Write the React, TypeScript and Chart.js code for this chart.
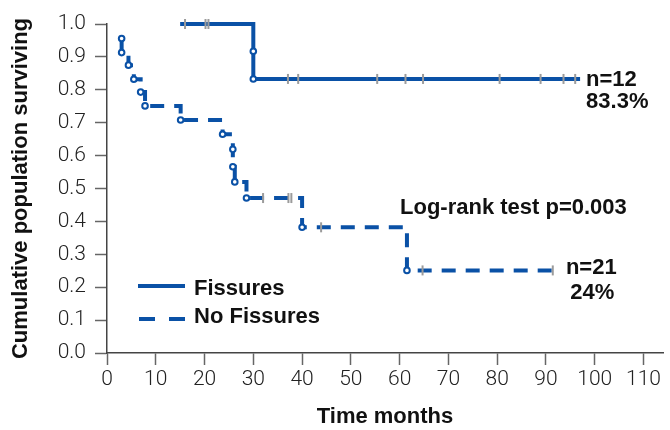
import React, { useEffect, useRef } from "react";
import { Chart, registerables } from "chart.js";

Chart.register(...registerables);

// ---- Data ----
// Fissures group (n=12)
const fissTimes = [15, 30, 30, 97];
const fissSurv = [1.0, 0.917, 0.833, 0.833];
const fissEventTimes = [30, 30];
const fissEventSurv = [0.917, 0.833];
const fissCensorTimes = [16, 20.2, 20.8, 37.1, 39.2, 55.4, 61.2, 64.8, 80.5, 88.9, 93.6, 96.0];
const fissCensorSurv = [1.0, 1.0, 1.0, 0.833, 0.833, 0.833, 0.833, 0.833, 0.833, 0.833, 0.833, 0.833];

// No Fissures group (n=21)
const noTimes = [3.0, 3.0, 4.4, 5.5, 6.9, 7.8, 15.1, 23.7, 25.8, 25.8, 26.2, 28.6, 40.0, 61.5, 91.5];
const noSurv = [0.956, 0.913, 0.875, 0.832, 0.793, 0.751, 0.708, 0.665, 0.619, 0.566, 0.52, 0.471, 0.382, 0.251, 0.251];
const noEventTimes = [3.0, 3.0, 4.4, 5.5, 6.9, 7.8, 15.1, 23.7, 25.8, 25.8, 26.2, 28.6, 40.0, 61.5];
const noEventSurv = [0.956, 0.913, 0.875, 0.832, 0.793, 0.751, 0.708, 0.665, 0.619, 0.566, 0.52, 0.471, 0.382, 0.251];
const noCensorTimes = [32.0, 37.2, 37.8, 43.9, 64.7, 91.4];
const noCensorSurv = [0.471, 0.471, 0.471, 0.382, 0.251, 0.251];

// Axis ticks
const xTickStep = 10;
const xMin = 0;
const xMax = 114;
const yTickStep = 0.1;

// Labels / annotations
const seriesNames = ["Fissures", "No Fissures"];
const logRankText = "Log-rank test p=0.003";
const fissNote = ["n=12", "83.3%"];
const noNote = ["n=21", "24%"];
const xTitle = "Time months";
const yTitle = "Cumulative population surviving";

const BLUE = "#0a51a6";
const CENSOR = "#9b9b9b";
const BOLD = "'Liberation Sans', Arial, Helvetica, sans-serif";
const LIGHT = "Roboto, 'Liberation Sans', sans-serif";

const pts = (xs: number[], ys: number[]) => xs.map((x, i) => ({ x, y: ys[i] }));

const overlayPlugin = {
  id: "overlay",
  afterDatasetsDraw(chart: any) {
    const { ctx, scales } = chart;
    const xs = scales.x;
    const ys = scales.y;
    ctx.save();
    // legend
    ctx.strokeStyle = BLUE;
    ctx.lineWidth = 4;
    ctx.lineCap = "butt";
    ctx.setLineDash([]);
    ctx.beginPath();
    ctx.moveTo(138, 286);
    ctx.lineTo(185, 286);
    ctx.stroke();
    ctx.setLineDash([16, 14]);
    ctx.beginPath();
    ctx.moveTo(139, 319);
    ctx.lineTo(185, 319);
    ctx.stroke();
    ctx.setLineDash([]);

    ctx.fillStyle = "#111";
    ctx.font = `bold 22px ${BOLD}`;
    ctx.textBaseline = "middle";
    ctx.textAlign = "left";
    ctx.fillText(seriesNames[0], 194, 289);
    ctx.fillText(seriesNames[1], 194, 317);

    ctx.fillText(logRankText, 400, 208);

    // end-of-curve notes, anchored to the end of each curve
    const fEndX = xs.getPixelForValue(fissTimes[fissTimes.length - 1]);
    const fEndY = ys.getPixelForValue(fissSurv[fissSurv.length - 1]);
    ctx.fillText(fissNote[0], fEndX + 6, fEndY + 1);
    ctx.fillText(fissNote[1], fEndX + 6, fEndY + 23);

    const nEndX = xs.getPixelForValue(noTimes[noTimes.length - 1]);
    const nEndY = ys.getPixelForValue(noSurv[noSurv.length - 1]);
    ctx.textAlign = "center";
    ctx.fillText(noNote[0], nEndX + 38, nEndY - 2);
    ctx.fillText(noNote[1], nEndX + 39, nEndY + 23);
    ctx.restore();
  },
};

export default function App() {
  const ref = useRef<HTMLCanvasElement | null>(null);

  useEffect(() => {
    if (!ref.current) return;
    const chart = new Chart(ref.current, {
      type: "line",
      data: {
        datasets: [
          {
            label: seriesNames[0] + " events",
            data: pts(fissEventTimes, fissEventSurv),
            showLine: false,
            pointRadius: 2.8,
            pointBorderWidth: 2,
            pointBackgroundColor: "#ffffff",
            pointBorderColor: BLUE,
            order: 1,
            clip: false,
          } as any,
          {
            label: seriesNames[1] + " events",
            data: pts(noEventTimes, noEventSurv),
            showLine: false,
            pointRadius: 2.8,
            pointBorderWidth: 2,
            pointBackgroundColor: "#ffffff",
            pointBorderColor: BLUE,
            order: 1,
            clip: false,
          },
          {
            label: seriesNames[0] + " censored",
            data: pts(fissCensorTimes, fissCensorSurv),
            showLine: false,
            pointStyle: "line",
            pointRotation: 90,
            pointRadius: 5,
            pointBorderWidth: 2,
            pointBorderColor: CENSOR,
            order: 2,
            clip: false,
          },
          {
            label: seriesNames[1] + " censored",
            data: pts(noCensorTimes, noCensorSurv),
            showLine: false,
            pointStyle: "line",
            pointRotation: 90,
            pointRadius: 5,
            pointBorderWidth: 2,
            pointBorderColor: CENSOR,
            order: 2,
            clip: false,
          },
          {
            label: seriesNames[0],
            data: pts(fissTimes, fissSurv),
            stepped: "before",
            borderColor: BLUE,
            borderWidth: 4,
            pointRadius: 0,
            fill: false,
            order: 3,
            clip: false,
          },
          {
            label: seriesNames[1],
            data: pts(noTimes, noSurv),
            stepped: "before",
            borderColor: BLUE,
            borderWidth: 4,
            borderDash: [14, 10],
            pointRadius: 0,
            fill: false,
            order: 3,
            clip: false,
          },
        ],
      },
      options: {
        animation: false,
        responsive: false,
        events: [],
        layout: { padding: { top: 24, right: 5, left: 0, bottom: 0 } },
        plugins: { legend: { display: false }, tooltip: { enabled: false } },
        scales: {
          x: {
            type: "linear",
            min: xMin,
            max: xMax,
            afterFit: (s: any) => {
              s.height = 77;
            },
            grid: {
              display: true,
              drawOnChartArea: false,
              drawTicks: true,
              tickLength: 12,
              tickColor: "#666",
              tickWidth: 1.5,
            },
            border: { display: true, color: "#444", width: 1.5 },
            ticks: {
              stepSize: xTickStep,
              includeBounds: false,
              padding: 2,
              color: "#222",
              maxRotation: 0,
              font: { family: LIGHT, size: 21, weight: 300 as any },
            },
            title: {
              display: true,
              text: xTitle,
              color: "#111",
              padding: { top: 0, bottom: 0 },
              font: { family: BOLD, size: 22, weight: "bold" },
            },
          },
          y: {
            type: "linear",
            min: 0,
            max: 1,
            afterFit: (s: any) => {
              s.width = 107;
            },
            grid: {
              display: true,
              drawOnChartArea: false,
              drawTicks: true,
              tickLength: 12,
              tickColor: "#666",
              tickWidth: 1.5,
            },
            border: { display: true, color: "#444", width: 1.5 },
            ticks: {
              stepSize: yTickStep,
              padding: 9,
              color: "#222",
              callback: (v: any) => Number(v).toFixed(1),
              font: { family: LIGHT, size: 21, weight: 300 as any },
            },
            title: {
              display: true,
              text: yTitle,
              color: "#111",
              padding: { top: 8, bottom: 0 },
              font: { family: BOLD, size: 22, weight: "bold" },
            },
          },
        },
      },
      plugins: [overlayPlugin],
    });
    return () => chart.destroy();
  }, []);

  return (
    <div style={{ position: "fixed", left: 0, top: 0, width: 670, height: 430, background: "#fff" }}>
      <canvas ref={ref} width={670} height={430} style={{ display: "block" }} />
    </div>
  );
}
